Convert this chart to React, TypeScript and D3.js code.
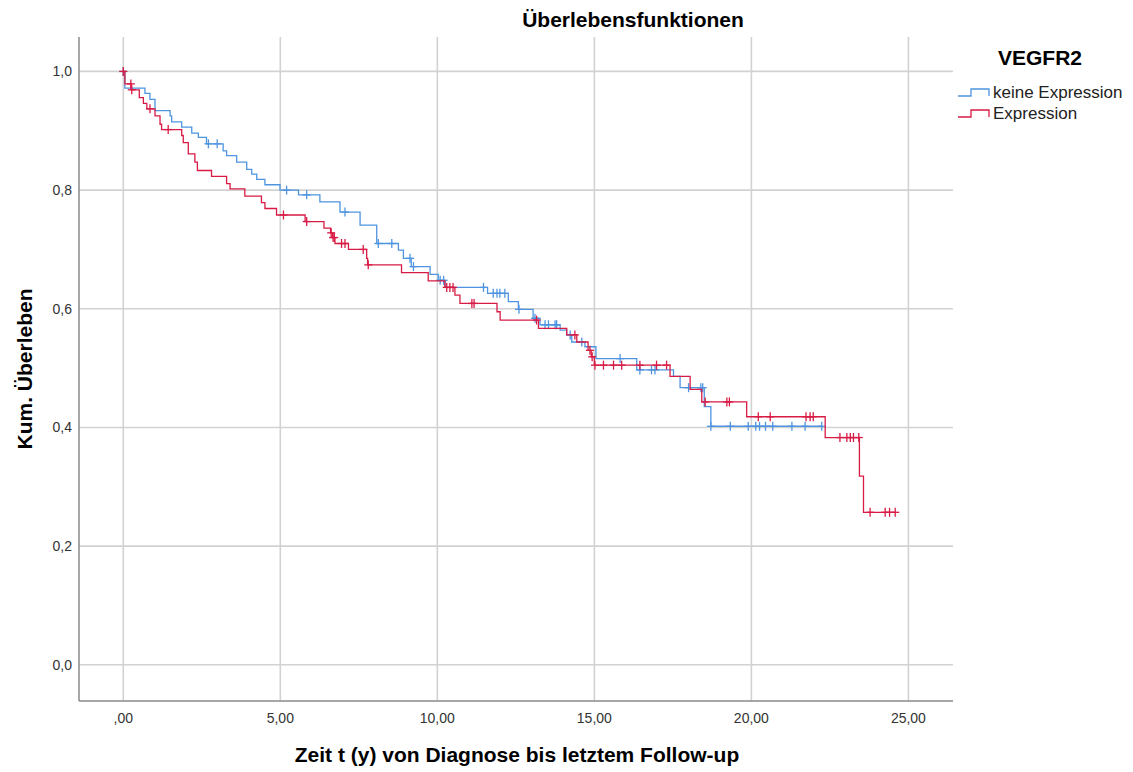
import React from 'react';
import * as d3 from 'd3';

// Kaplan-Meier steps: time of drop and survival after the drop
const blueTimes = [0, 0.05, 0.69, 0.85, 1.01, 1.49, 1.54, 1.86, 2.18, 2.39, 2.65, 3.18, 3.29, 3.61, 3.93, 4.09, 4.25, 4.51, 4.99, 5.58, 6.26, 6.9, 7.54, 8.07, 8.76, 8.92, 9.17, 9.77, 10.03, 10.25, 11.6, 12.26, 12.58, 13.05, 13.27, 13.91, 14.12, 14.28, 14.7, 15.05, 16.35, 17.52, 17.73, 18.5, 18.71];
const blueSurv = [1.0, 0.972, 0.963, 0.953, 0.934, 0.925, 0.915, 0.906, 0.896, 0.889, 0.878, 0.866, 0.858, 0.847, 0.835, 0.827, 0.818, 0.809, 0.8, 0.792, 0.78, 0.763, 0.741, 0.71, 0.699, 0.685, 0.671, 0.658, 0.648, 0.636, 0.626, 0.612, 0.599, 0.584, 0.573, 0.564, 0.556, 0.544, 0.536, 0.516, 0.497, 0.486, 0.467, 0.435, 0.402];
const blueCensor = [0, 2.71, 2.99, 5.2, 5.84, 7.06, 8.12, 8.55, 9.13, 9.24, 10.09, 10.2, 11.47, 11.78, 11.9, 11.99, 12.15, 12.6, 13.11, 13.43, 13.54, 13.75, 13.8, 14.23, 14.6, 15.82, 16.45, 16.82, 16.93, 18.0, 18.39, 18.45, 18.71, 19.33, 19.9, 20.14, 20.26, 20.45, 20.68, 21.29, 21.71, 22.24];

const redTimes = [0, 0.05, 0.25, 0.51, 0.64, 0.75, 1.01, 1.17, 1.22, 1.86, 1.91, 2.07, 2.28, 2.36, 2.81, 3.29, 3.4, 3.87, 4.4, 4.51, 4.88, 5.79, 6.39, 6.6, 6.66, 6.74, 7.17, 7.75, 7.78, 8.86, 9.71, 10.24, 10.56, 10.72, 11.9, 12.0, 13.22, 14.12, 14.44, 14.8, 14.9, 15.0, 17.41, 18.05, 18.42, 19.85, 22.35, 23.44, 23.57];
const redSurv = [1.0, 0.979, 0.969, 0.956, 0.946, 0.937, 0.925, 0.911, 0.902, 0.892, 0.88, 0.861, 0.847, 0.833, 0.823, 0.811, 0.802, 0.79, 0.779, 0.769, 0.758, 0.747, 0.736, 0.728, 0.72, 0.71, 0.7, 0.685, 0.674, 0.661, 0.647, 0.636, 0.623, 0.609, 0.595, 0.581, 0.567, 0.556, 0.544, 0.53, 0.519, 0.505, 0.486, 0.464, 0.443, 0.418, 0.383, 0.318, 0.257];
const redCensor = [0, 0.24, 0.27, 0.85, 1.43, 5.1, 5.84, 6.62, 6.68, 6.72, 6.95, 7.06, 7.64, 7.8, 10.3, 10.4, 10.5, 11.1, 11.17, 13.16, 14.38, 14.86, 14.93, 15.02, 15.29, 15.61, 15.87, 16.45, 16.98, 17.3, 18.53, 19.22, 19.3, 20.22, 20.6, 21.74, 21.87, 21.97, 22.82, 23.04, 23.15, 23.25, 23.42, 23.78, 24.26, 24.4, 24.58];

const xTicks = [0, 5, 10, 15, 20, 25];
const yTicks = [0, 0.2, 0.4, 0.6, 0.8, 1.0];

const groups = [
  { name: 'keine Expression', color: '#4f94e0', times: blueTimes, surv: blueSurv, censor: blueCensor },
  { name: 'Expression', color: '#d81b45', times: redTimes, surv: redSurv, censor: redCensor },
];

const FONT = '"Liberation Sans", Arial, sans-serif';

const left = 79, right = 953, top = 37, bottom = 701;
const x = d3.scaleLinear().domain([-1.41, 26.42]).range([left, right]);
const y = d3.scaleLinear().domain([-0.061, 1.058]).range([bottom, top]);

const survAt = (times: number[], surv: number[], t: number) => {
  let s = surv[0];
  for (let i = 0; i < times.length; i++) if (times[i] <= t) s = surv[i];
  return s;
};

const App = () => {
  const line = d3.line<[number, number]>()
    .x(d => x(d[0]))
    .y(d => y(d[1]))
    .curve(d3.curveStepAfter);

  const fmtX = (v: number) => (v === 0 ? ',00' : v.toFixed(2).replace('.', ','));
  const fmtY = (v: number) => v.toFixed(1).replace('.', ',');

  return (
    <svg width={1133} height={772} style={{ display: 'block', position: 'absolute', left: 0, top: 0, background: '#fff' }}>
      <text x={633} y={27} textAnchor="middle" fontFamily={FONT} fontWeight="bold" fontSize={21} fill="#000">Überlebensfunktionen</text>

      {/* grid */}
      {yTicks.map(t => (
        <line key={'gy' + t} x1={left} x2={right} y1={y(t)} y2={y(t)} stroke="#d2d2d2" strokeWidth={1.6} />
      ))}
      {xTicks.map(t => (
        <line key={'gx' + t} x1={x(t)} x2={x(t)} y1={top} y2={bottom} stroke="#d2d2d2" strokeWidth={1.6} />
      ))}

      {/* axes */}
      <line x1={left} x2={left} y1={top} y2={bottom} stroke="#8a8a8a" strokeWidth={1.5} />
      <line x1={left} x2={right} y1={bottom} y2={bottom} stroke="#8a8a8a" strokeWidth={1.5} />

      {yTicks.map(t => (
        <text key={'ly' + t} x={72} y={y(t) + 5} textAnchor="end" fontFamily={FONT} fontSize={14} fill="#333">{fmtY(t)}</text>
      ))}
      {xTicks.map(t => (
        <text key={'lx' + t} x={x(t)} y={723} textAnchor="middle" fontFamily={FONT} fontSize={14} fill="#333">{fmtX(t)}</text>
      ))}

      <text x={517} y={762} textAnchor="middle" fontFamily={FONT} fontWeight="bold" fontSize={21} fill="#000">Zeit t (y) von Diagnose bis letztem Follow-up</text>
      <text transform={`translate(32,${(top + bottom) / 2}) rotate(-90)`} textAnchor="middle" fontFamily={FONT} fontWeight="bold" fontSize={21} fill="#000">Kum. Überleben</text>

      {/* curves */}
      {groups.map(g => {
        const end = g.censor[g.censor.length - 1];
        const pts: [number, number][] = g.times.map((t, i) => [t, g.surv[i]] as [number, number]);
        pts.push([end, g.surv[g.surv.length - 1]]);
        return (
          <g key={g.name}>
            <path d={line(pts) || ''} fill="none" stroke={g.color} strokeWidth={1.3} />
            {g.censor.map((c, i) => {
              const cx = x(c), cy = y(survAt(g.times, g.surv, c));
              return (
                <g key={i} stroke={g.color} strokeWidth={1.3}>
                  <line x1={cx - 4} x2={cx + 4} y1={cy} y2={cy} />
                  <line x1={cx} x2={cx} y1={cy - 4.5} y2={cy + 4.5} />
                </g>
              );
            })}
          </g>
        );
      })}

      {/* legend */}
      <text x={998} y={65} fontFamily={FONT} fontWeight="bold" fontSize={21} fill="#000">VEGFR2</text>
      {groups.map((g, i) => {
        const ly = 96 + i * 21;
        return (
          <g key={'lg' + i}>
            <path d={`M958,${ly} H971 V${ly - 7} H989 V${ly}`} fill="none" stroke={g.color} strokeWidth={1.3} />
            <text x={993} y={ly + 1.5} fontFamily={FONT} fontSize={17} fill="#222">{g.name}</text>
          </g>
        );
      })}
    </svg>
  );
};

export default App;
